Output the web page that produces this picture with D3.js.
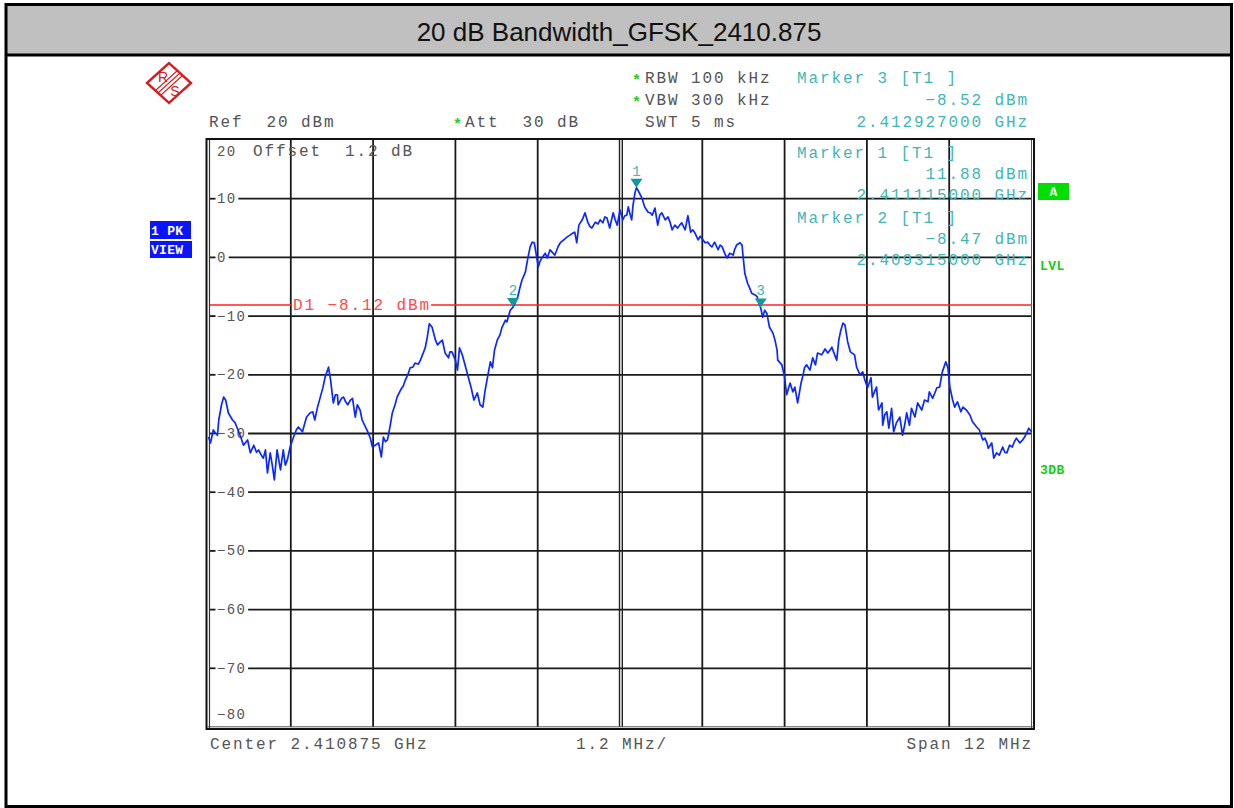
<!DOCTYPE html>
<html>
<head>
<meta charset="utf-8">
<script src="https://cdn.jsdelivr.net/npm/d3@7"></script>
<style>
  body { margin: 0; background: #fff; }
  svg { display: block; }
</style>
</head>
<body>
<svg id="chart" width="1234" height="808"></svg>
<script>
// ---- Sweep data: frequency offset from centre (MHz) and level (dBm) ----
const traceOffsetMHz = [
  -6.00,-5.97,-5.93,-5.90,-5.87,-5.85,-5.81,-5.78,-5.75,-5.71,
  -5.65,-5.61,-5.58,-5.53,-5.49,-5.43,-5.39,-5.34,-5.30,-5.27,
  -5.23,-5.20,-5.17,-5.14,-5.10,-5.07,-5.04,-5.00,-4.95,-4.91,
  -4.88,-4.85,-4.81,-4.76,-4.72,-4.69,-4.63,-4.59,-4.57,-4.52,
  -4.48,-4.45,-4.41,-4.37,-4.33,-4.30,-4.25,-4.22,-4.18,-4.15,
  -4.12,-4.11,-4.06,-4.03,-4.00,-3.97,-3.93,-3.90,-3.86,-3.83,
  -3.79,-3.76,-3.71,-3.67,-3.64,-3.61,-3.57,-3.52,-3.48,-3.45,
  -3.42,-3.39,-3.35,-3.32,-3.28,-3.25,-3.20,-3.16,-3.13,-3.09,
  -3.06,-3.02,-2.99,-2.94,-2.91,-2.87,-2.84,-2.81,-2.78,-2.74,
  -2.69,-2.66,-2.62,-2.59,-2.55,-2.50,-2.48,-2.45,-2.40,-2.37,
  -2.34,-2.30,-2.26,-2.21,-2.17,-2.13,-2.08,-2.04,-2.00,-1.97,
  -1.94,-1.89,-1.86,-1.83,-1.79,-1.75,-1.72,-1.67,-1.65,-1.60,
  -1.56,-1.53,-1.49,-1.46,-1.43,-1.38,-1.34,-1.31,-1.28,-1.25,
  -1.22,-1.19,-1.17,-1.14,-1.09,-1.06,-1.02,-0.99,-0.95,-0.90,
  -0.87,-0.82,-0.77,-0.73,-0.68,-0.66,-0.63,-0.60,-0.55,-0.51,
  -0.47,-0.44,-0.41,-0.36,-0.32,-0.29,-0.25,-0.22,-0.19,-0.15,
  -0.10,-0.07,-0.04,0.00,0.04,0.07,0.10,0.12,0.15,0.17,
  0.19,0.22,0.24,0.26,0.29,0.32,0.36,0.41,0.44,0.47,
  0.51,0.55,0.58,0.61,0.66,0.70,0.73,0.76,0.80,0.84,
  0.87,0.90,0.95,0.99,1.03,1.06,1.09,1.14,1.17,1.19,
  1.24,1.28,1.31,1.34,1.38,1.43,1.46,1.49,1.53,1.56,
  1.60,1.65,1.67,1.70,1.75,1.78,1.79,1.82,1.86,1.89,
  1.92,1.97,2.00,2.02,2.05,2.08,2.11,2.14,2.18,2.23,
  2.26,2.29,2.30,2.36,2.40,2.43,2.48,2.52,2.55,2.59,
  2.64,2.67,2.69,2.72,2.77,2.81,2.85,2.88,2.94,2.99,
  3.03,3.06,3.09,3.13,3.16,3.19,3.22,3.25,3.28,3.32,
  3.36,3.42,3.45,3.50,3.54,3.57,3.61,3.66,3.68,3.71,
  3.74,3.77,3.82,3.83,3.86,3.89,3.92,3.96,3.99,4.03,
  4.08,4.12,4.15,4.18,4.22,4.25,4.30,4.34,4.40,4.44,
  4.49,4.51,4.56,4.62,4.66,4.70,4.75,4.78,4.81,4.85,
  4.88,4.92,4.97,5.00,5.05,5.10,5.14,5.20,5.24,5.29,
  5.32,5.35,5.37,5.42,5.45,5.49,5.53,5.58,5.61,5.64,
  5.68,5.72,5.75,5.78,5.83,5.87,5.90,5.93,5.96,6.00
];
const traceLevelDbm = [
  -30.6,-31.6,-29.4,-29.9,-30.3,-27.7,-25.1,-23.8,-24.3,-26.5,
  -27.7,-28.2,-29.1,-30.6,-32.0,-31.1,-33.3,-32.0,-33.2,-32.8,
  -33.7,-34.2,-32.8,-36.7,-33.3,-35.4,-37.9,-32.8,-36.2,-32.8,
  -35.4,-34.5,-32.3,-30.6,-29.4,-28.9,-29.7,-28.0,-27.2,-26.5,
  -26.3,-27.7,-25.5,-23.8,-22.1,-20.4,-18.7,-20.9,-24.8,-23.4,
  -23.4,-25.1,-24.0,-23.8,-24.6,-25.1,-24.3,-24.0,-27.2,-25.1,
  -26.0,-27.7,-28.9,-29.9,-30.8,-32.3,-32.0,-31.6,-34.0,-30.6,
  -31.4,-31.1,-28.6,-26.5,-25.1,-23.8,-22.6,-21.9,-20.9,-19.9,
  -18.8,-18.7,-18.0,-18.2,-17.5,-16.3,-15.4,-13.6,-11.3,-11.9,
  -14.1,-14.9,-14.4,-14.1,-16.3,-17.1,-16.1,-16.1,-17.5,-19.2,
  -15.4,-16.6,-18.3,-20.5,-22.2,-24.3,-23.1,-25.1,-25.5,-22.9,
  -20.9,-17.8,-18.8,-15.8,-14.1,-13.2,-11.9,-10.7,-11.0,-9.0,
  -8.47,-7.8,-6.7,-5.2,-3.9,-2.5,0.1,1.8,2.6,2.5,
  0.4,-1.6,-0.8,-0.1,0.7,-0.1,1.3,0.9,0.4,1.9,
  2.5,3.0,3.5,3.8,4.2,4.3,2.5,5.5,6.4,7.6,
  6.0,5.3,5.0,6.0,5.7,6.4,5.9,6.9,6.7,5.0,
  7.6,6.4,5.5,8.1,6.4,7.1,7.2,8.6,7.2,6.4,
  8.9,11.1,11.88,11.5,10.8,10.1,8.6,7.7,7.6,7.2,
  8.4,5.5,7.2,7.6,6.4,6.9,6.0,4.7,5.5,5.0,
  5.5,5.9,4.7,7.1,4.3,4.7,4.2,3.0,3.6,3.3,
  2.5,2.6,2.1,1.8,2.6,1.3,2.1,1.8,0.6,-0.1,
  0.7,0.4,1.3,2.1,2.5,2.1,0.7,-2.7,-4.4,-5.2,
  -6.1,-6.4,-6.7,-7.6,-8.52,-10.2,-9.0,-9.5,-11.9,-12.9,
  -14.1,-15.8,-17.5,-18.3,-20.4,-23.4,-21.4,-22.9,-22.1,-24.8,
  -21.4,-20.0,-18.8,-18.3,-19.2,-17.1,-18.3,-16.3,-16.6,-15.6,
  -16.3,-15.8,-15.3,-16.6,-17.5,-14.1,-12.4,-11.2,-11.5,-14.4,
  -16.1,-16.6,-18.7,-20.0,-19.5,-20.9,-22.2,-20.5,-23.8,-22.9,
  -22.1,-26.0,-24.8,-28.6,-26.8,-26.3,-29.1,-25.7,-29.7,-28.2,
  -27.2,-30.3,-28.6,-26.5,-28.6,-25.7,-27.2,-24.8,-26.0,-24.3,
  -24.6,-22.9,-24.0,-22.2,-22.1,-19.5,-17.8,-18.7,-22.1,-24.3,
  -25.5,-24.6,-26.3,-25.5,-26.0,-26.8,-28.0,-28.9,-29.4,-31.1,
  -30.8,-31.6,-32.5,-31.6,-34.2,-33.3,-33.7,-32.3,-33.2,-33.3,
  -32.0,-32.3,-31.4,-30.8,-31.6,-31.1,-30.6,-29.9,-29.1,-29.7
];

// ---- Markers ----
const markerNumbers = [1, 2, 3];
const markerOffsetMHz = [0.24, -1.56, 2.052];
const markerLevelDbm = [11.88, -8.47, -8.52];
const markerFreqText = ["2.411115000 GHz", "2.409315000 GHz", "2.412927000 GHz"];

// ---- Display line ----
const displayLineDbm = -8.12;

// ---- Axis ticks ----
const levelTicks = [20, 10, 0, -10, -20, -30, -40, -50, -60, -70, -80];
const freqDivOffsets = [-6, -4.8, -3.6, -2.4, -1.2, 0, 1.2, 2.4, 3.6, 4.8, 6];

// ---- Labels ----
const titleText = "20 dB Bandwidth_GFSK_2410.875";
const centerText = "Center 2.410875 GHz";
const divText = "1.2 MHz/";
const spanText = "Span 12 MHz";
const offsetText = "Offset  1.2 dB";

const svg = d3.select("#chart");
const MONO = "'Liberation Mono', 'DejaVu Sans Mono', monospace";
const GRAY = "#555";
const TEAL = "#3fb6b6";

const x = d3.scaleLinear().domain([-6, 6]).range([208.5, 1031.5]);
const y = d3.scaleLinear().domain([-80, 20]).range([727, 140]);

function text(px, py, s, o = {}) {
  return svg.append("text")
    .attr("x", px).attr("y", py)
    .attr("font-family", o.family || MONO)
    .attr("font-size", o.size || 16)
    .attr("font-weight", o.weight || "normal")
    .attr("letter-spacing", o.ls !== undefined ? o.ls : 1.9)
    .attr("text-anchor", o.anchor || "start")
    .attr("fill", o.fill || GRAY)
    .attr("xml:space", "preserve")
    .style("white-space", "pre")
    .text(s);
}

// ---- Outer frame and header ----
svg.append("rect").attr("x", 6).attr("y", 4.5).attr("width", 1225.5).attr("height", 50)
  .attr("fill", "#c0c0c0");
svg.append("rect").attr("x", 6).attr("y", 4.5).attr("width", 1225.5).attr("height", 802)
  .attr("fill", "none").attr("stroke", "#000").attr("stroke-width", 3);
svg.append("line").attr("x1", 6).attr("x2", 1231.5).attr("y1", 55).attr("y2", 55)
  .attr("stroke", "#000").attr("stroke-width", 3);
text(619, 41, titleText, { family: "'Liberation Sans', Arial, sans-serif", size: 26, ls: 0, anchor: "middle", fill: "#111" });

// ---- R&S logo ----
const logo = svg.append("g").attr("transform", "translate(169,83)");
logo.append("path").attr("d", "M-22,0 L0,-20 L22,0 L0,20 Z")
  .attr("fill", "none").attr("stroke", "#d02020").attr("stroke-width", 2.4).attr("stroke-linejoin", "miter");
[-2.5, 0, 2.5].forEach(d => {
  logo.append("line").attr("x1", -11 + d).attr("y1", 10 + d).attr("x2", 11 + d).attr("y2", -10 + d)
    .attr("stroke", "#d02020").attr("stroke-width", 1.1);
});
logo.append("text").attr("x", -6).attr("y", -1).attr("font-family", "'Liberation Sans', Arial, sans-serif")
  .attr("font-size", 14).attr("fill", "#d02020").attr("text-anchor", "middle").text("R");
logo.append("text").attr("x", 6).attr("y", 13).attr("font-family", "'Liberation Sans', Arial, sans-serif")
  .attr("font-size", 14).attr("fill", "#d02020").attr("text-anchor", "middle").text("S");

// ---- Setting texts above the diagram ----
const STAR = "#22cc22";
text(632, 85, "*", { fill: STAR, size: 15, weight: "bold", ls: 0 });
text(645, 83, "RBW 100 kHz");
text(632, 107, "*", { fill: STAR, size: 15, weight: "bold", ls: 0 });
text(645, 105, "VBW 300 kHz");
text(645, 127, "SWT 5 ms");
text(209, 127, "Ref  20 dBm");
text(453, 129, "*", { fill: STAR, size: 15, weight: "bold", ls: 0 });
text(465, 127, "Att  30 dB");

// Marker 3 readout above the diagram
text(797, 83, `Marker ${markerNumbers[2]} [T1 ]`, { fill: TEAL });
text(1029, 105, `${markerLevelDbm[2].toFixed(2).replace("-", "\u2212")} dBm`, { fill: TEAL, anchor: "end" });
text(1029, 127, markerFreqText[2], { fill: TEAL, anchor: "end" });

// ---- Grid ----
const grid = svg.append("g");
freqDivOffsets.slice(1, -1).forEach(f => {
  if (f === 0) {
    grid.append("line").attr("x1", x(f) - 0.5).attr("x2", x(f) - 0.5).attr("y1", 140).attr("y2", 727)
      .attr("stroke", "#222").attr("stroke-width", 1.4);
    grid.append("line").attr("x1", x(f) + 2.3).attr("x2", x(f) + 2.3).attr("y1", 140).attr("y2", 727)
      .attr("stroke", "#222").attr("stroke-width", 1.4);
  } else {
    grid.append("line").attr("x1", x(f)).attr("x2", x(f)).attr("y1", 140).attr("y2", 727)
      .attr("stroke", "#1a1a1a").attr("stroke-width", 1.8);
  }
});

// Level labels interrupt the horizontal grid lines
levelTicks.forEach((v, i) => {
  const lab = String(v).replace("-", "\u2212");
  if (i === 0) {
    text(217, 156, lab, { size: 14, ls: 1.3 });
  } else if (i === levelTicks.length - 1) {
    text(217, 719, lab, { size: 14, ls: 1.3 });
  } else {
    const t = text(217, y(v) + 4.5, lab, { size: 14, ls: 1.3 });
    const w = t.node().getComputedTextLength();
    grid.append("line").attr("x1", 209).attr("x2", 215.5).attr("y1", y(v)).attr("y2", y(v))
      .attr("stroke", "#1a1a1a").attr("stroke-width", 1.8);
    grid.append("line").attr("x1", 217 + w + 2).attr("x2", 1032).attr("y1", y(v)).attr("y2", y(v))
      .attr("stroke", "#1a1a1a").attr("stroke-width", 1.8);
  }
});

// ---- Diagram frame ----
svg.append("rect").attr("x", 206.5).attr("y", 139).attr("width", 827.5).attr("height", 590)
  .attr("fill", "none").attr("stroke", "#111").attr("stroke-width", 2);
svg.append("line").attr("x1", 209.5).attr("x2", 209.5).attr("y1", 140).attr("y2", 728)
  .attr("stroke", "#333").attr("stroke-width", 1.2);
svg.append("line").attr("x1", 1031.5).attr("x2", 1031.5).attr("y1", 140).attr("y2", 728)
  .attr("stroke", "#555").attr("stroke-width", 1);
svg.append("line").attr("x1", 207).attr("x2", 1034).attr("y1", 726.8).attr("y2", 726.8)
  .attr("stroke", "#555").attr("stroke-width", 1);

// Reference offset text in the diagram
text(253, 156, offsetText);

// ---- Display line D1 ----
const d1Label = text(293, y(displayLineDbm) + 5, `D1 ${displayLineDbm.toFixed(2).replace("-", "\u2212")} dBm`, { fill: "#ff4a4a" });
const d1w = d1Label.node().getComputedTextLength();
svg.append("line").attr("x1", 210).attr("x2", 291).attr("y1", y(displayLineDbm)).attr("y2", y(displayLineDbm))
  .attr("stroke", "#ff2020").attr("stroke-width", 1.5);
svg.append("line").attr("x1", 293 + d1w).attr("x2", 1032).attr("y1", y(displayLineDbm)).attr("y2", y(displayLineDbm))
  .attr("stroke", "#ff2020").attr("stroke-width", 1.5);

// ---- Trace ----
const tracePts = traceOffsetMHz.map((f, i) => [f, traceLevelDbm[i]]);
svg.append("path")
  .datum(tracePts)
  .attr("d", d3.line().x(d => x(d[0])).y(d => y(d[1])))
  .attr("fill", "none").attr("stroke", "#0a28ff").attr("stroke-width", 1.7)
  .attr("stroke-linejoin", "round");

// ---- Marker symbols ----
markerNumbers.forEach((n, i) => {
  const mx = x(markerOffsetMHz[i]), my = y(markerLevelDbm[i]);
  svg.append("path")
    .attr("d", `M${mx},${my} L${mx - 6},${my - 9} L${mx + 6},${my - 9} Z`)
    .attr("fill", "#12999b");
  text(mx, my - 12, String(n), { fill: TEAL, anchor: "middle", size: 14, ls: 0 });
});

// ---- Marker readouts inside the diagram ----
[0, 1].forEach((i, k) => {
  const by = 158 + k * 65;
  text(797, by, `Marker ${markerNumbers[i]} [T1 ]`, { fill: TEAL });
  text(1029, by + 21, `${markerLevelDbm[i].toFixed(2).replace("-", "\u2212")} dBm`, { fill: TEAL, anchor: "end" });
  text(1029, by + 42, markerFreqText[i], { fill: TEAL, anchor: "end" });
});

// ---- Side annotations ----
svg.append("rect").attr("x", 1038).attr("y", 183).attr("width", 31).attr("height", 17).attr("fill", "#00dd00");
text(1053.5, 196, "A", { fill: "#fff", weight: "bold", size: 13, ls: 0, anchor: "middle" });
text(1040, 270, "LVL", { fill: "#11cc11", weight: "bold", size: 13, ls: 0.5 });
text(1040, 474, "3DB", { fill: "#11cc11", weight: "bold", size: 13, ls: 0.5 });

svg.append("rect").attr("x", 150).attr("y", 221).attr("width", 41).attr("height", 18).attr("fill", "#0a14ff");
svg.append("rect").attr("x", 150).attr("y", 241).attr("width", 42).attr("height", 17).attr("fill", "#0a14ff");
text(151, 235, "1 PK", { fill: "#fff", weight: "bold", size: 13, ls: 0.3 });
text(151, 254, "VIEW", { fill: "#fff", weight: "bold", size: 13, ls: 0.3 });

// ---- Bottom labels ----
text(210, 749, centerText);
text(576, 749, divText);
text(1033, 749, spanText, { anchor: "end" });
</script>
</body>
</html>
